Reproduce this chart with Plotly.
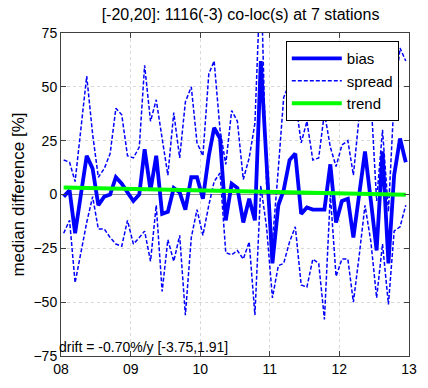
import pandas as pd
import plotly.graph_objects as go

# monthly co-location statistics, Jan 2008 - Dec 2012 (plotted mid-month)
months = pd.date_range('2008-01-01', periods=60, freq='MS') + pd.Timedelta(days=14)

bias = [-1, 2, -18, 0, 18, 12, -5, -1, 0, 8, 5, 1,
        -3, 0, 21, 2, 18, -9, -8, 3, 1, -7, 8, 8,
        -2, 18, 31, 26, -12, 5, 3, -13, -2, -12, 62, 15,
        -32, -5, 2, 16, 19, -9, -6, -7, -7, -7, 14, -13,
        -3, -2, -20, 0, 20, -3, -26, 20, -32, 9, 26, 15]

spread_hi = [16, 15, 6, 30, 55, 28, 8, 12, 19, 40, 37, 18,
             17, 22, 60, 34, 44, 26, 9, 38, 17, 43, 50, 24,
             18, 56, 62, 30, 14, 39, 34, 7, 17, 33, 105, 5,
             -22, 12, 45, 52, 44, 24, 34, 16, 17, 38, 22, 13,
             23, 25, 9, 37, 50, 45, -3, 30, -8, 45, 68, 62]

spread_lo = [-18, -12, -41, -26, -13, -1, -16, -16, -20, -23, -24, -12,
             -23, -20, -17, -31, -5, -45, -21, -31, -19, -56, -20, -7,
             -19, -5, 6, 10, -27, -28, -26, -30, -22, -56, 4, -15,
             -48, -33, -32, -22, -15, -42, -43, -30, -32, -58, 0, -38,
             -30, -30, -50, -28, -5, -22, -48, -23, -51, -17, -15, -5]

trend_x = [months[0], months[-1]]
trend_y = [3.2, -0.1]

year_ticks = ['2008-01-01', '2009-01-01', '2010-01-01', '2011-01-01', '2012-01-01', '2013-01-01']
year_labels = ['08', '09', '10', '11', '12', '13']

font = 'Liberation Sans, Arial, sans-serif'
blue = 'rgb(0,0,255)'

fig = go.Figure()

fig.add_trace(go.Scatter(x=months, y=bias, mode='lines', name='bias',
                         line=dict(color=blue, width=3.8)))
fig.add_trace(go.Scatter(x=months, y=spread_hi, mode='lines', name='spread',
                         line=dict(color=blue, width=1.5, dash='4px,2px')))
fig.add_trace(go.Scatter(x=months, y=spread_lo, mode='lines', name='spread',
                         showlegend=False,
                         line=dict(color=blue, width=1.5, dash='4px,2px')))
fig.add_trace(go.Scatter(x=trend_x, y=trend_y, mode='lines', name='trend',
                         line=dict(color='rgb(0,255,0)', width=4)))

fig.add_annotation(text='drift = -0.70%/y [-3.75,1.91]', xref='paper', yref='paper',
                   x=0, y=0, xanchor='left', yanchor='bottom', showarrow=False,
                   font=dict(size=14, color='black', family=font), xshift=-4, yshift=-1)

axis_common = dict(showline=True, linecolor='#404040', linewidth=1, mirror='ticks',
                   ticks='inside', ticklen=5, tickcolor='#404040',
                   showgrid=True, gridcolor='#d8d8d8', griddash='dot',
                   tickfont=dict(size=14, color='black', family=font))

fig.update_layout(
    width=428, height=388, autosize=False,
    margin=dict(l=61, r=11, t=33, b=31),
    paper_bgcolor='white', plot_bgcolor='white',
    font=dict(family=font, color='black'),
    title=dict(text='[-20,20]: 1116(-3) co-loc(s) at 7 stations', x=0.562, xanchor='center',
               y=0.963, yanchor='middle', font=dict(size=16, color='black')),
    xaxis=dict(range=['2008-01-01', '2013-01-01'], tickvals=year_ticks, ticktext=year_labels,
               ticklabeloverflow='allow', zeroline=False, **axis_common),
    yaxis=dict(range=[-75, 75], tickvals=[-75, -50, -25, 0, 25, 50, 75],
               title=dict(text='median difference [%]', font=dict(size=17), standoff=4),
               zeroline=True, zerolinecolor='#909090', zerolinewidth=1, **axis_common),
    legend=dict(x=0.646, y=0.975, xanchor='left', yanchor='top',
                bgcolor='white', bordercolor='black', borderwidth=1,
                font=dict(size=15, color='black'), itemwidth=50,
                tracegroupgap=0),
    showlegend=True,
)

# the page body has a default 8px margin; drop it so the figure sits at the window corner
fig.write_html('out.html', config={'displayModeBar': False, 'responsive': False},
               post_script="document.body.style.margin='0';document.body.style.overflow='hidden';")
